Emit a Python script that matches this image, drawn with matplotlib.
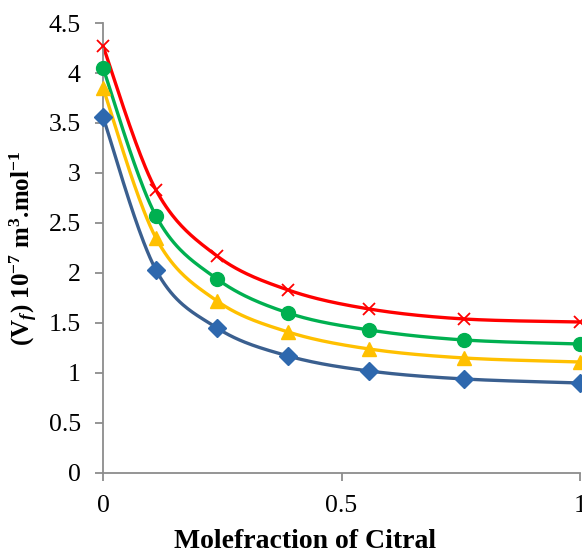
import numpy as np
import matplotlib
matplotlib.use("Agg")
import matplotlib.pyplot as plt

x_vals = [0.0, 0.111, 0.239, 0.388, 0.558, 0.757, 1.0]
series_blue = [3.56, 2.03, 1.45, 1.17, 1.02, 0.94, 0.90]
series_yellow = [3.85, 2.35, 1.72, 1.41, 1.24, 1.15, 1.11]
series_green = [4.05, 2.57, 1.94, 1.60, 1.43, 1.33, 1.29]
series_red = [4.27, 2.83, 2.17, 1.83, 1.64, 1.54, 1.51]
x_ticks = [0, 0.5, 1]
x_tick_labels = ['0', '0.5', '1']
y_ticks = [0, 0.5, 1, 1.5, 2, 2.5, 3, 3.5, 4, 4.5]
y_tick_labels = ['0', '0.5', '1', '1.5', '2', '2.5', '3', '3.5', '4', '4.5']

plt.rcParams['font.family'] = ['Liberation Serif', 'DejaVu Serif']
plt.rcParams['mathtext.fontset'] = 'custom'
plt.rcParams['mathtext.rm'] = 'Liberation Serif:bold'
plt.rcParams['mathtext.it'] = 'Liberation Serif:bold:italic'
plt.rcParams['mathtext.bf'] = 'Liberation Serif:bold'


def smooth(xs, ys, n=40):
    P = np.column_stack([np.asarray(xs, float), np.asarray(ys, float)])
    out = []
    m = len(P)
    for i in range(m - 1):
        p0 = P[i - 1] if i > 0 else P[i]
        p1 = P[i]
        p2 = P[i + 1]
        p3 = P[i + 2] if i + 2 < m else P[i + 1]
        c1 = p1 + (p2 - p0) / 6.0
        c2 = p2 - (p3 - p1) / 6.0
        t = np.linspace(0, 1, n)[:, None]
        seg = ((1 - t) ** 3) * p1 + 3 * ((1 - t) ** 2) * t * c1 + 3 * (1 - t) * t ** 2 * c2 + t ** 3 * p2
        out.append(seg if i == 0 else seg[1:])
    s = np.vstack(out)
    return s[:, 0], s[:, 1]


fig = plt.figure(figsize=(5.82, 5.53), dpi=100)
ax = fig.add_axes([0.177, 0.1447, 0.8196, 0.8137])

specs = [
    (series_blue, '#3A5F8F', '#2E68AE', 'D', 9),
    (series_yellow, '#FFC000', '#FFC000', '^', 10),
    (series_green, '#00B050', '#00B050', 'o', 10),
    (series_red, '#FF0000', '#FF0000', 'x', 9),
]
for ys, lc, mc, mk, ms in specs:
    sx, sy = smooth(x_vals, ys)
    ax.plot(sx, sy, color=lc, lw=2.4, solid_capstyle='round', clip_on=False, zorder=2)
    if mk == 'x':
        ax.plot(x_vals, ys, linestyle='none', marker=mk, ms=ms, mew=1.3,
                color=mc, clip_on=False, zorder=3)
    else:
        ax.plot(x_vals, ys, linestyle='none', marker=mk, ms=ms, mfc=mc,
                mec=mc, clip_on=False, zorder=3)

ax.set_xlim(0, 1)
ax.set_ylim(0, 4.5)
ax.set_xticks(x_ticks)
ax.set_xticklabels(x_tick_labels)
ax.set_yticks(y_ticks)
ax.set_yticklabels(y_tick_labels)

for s in ['top', 'right']:
    ax.spines[s].set_visible(False)
for s in ['left', 'bottom']:
    ax.spines[s].set_color('#8C8C8C')
    ax.spines[s].set_linewidth(1.3)
ax.tick_params(axis='both', colors='#8C8C8C', length=6, width=1.3,
               labelsize=18.5, labelcolor='black', direction='out')
ax.tick_params(axis='x', pad=10)
ax.tick_params(axis='y', pad=10)

ax.set_xlabel('Molefraction of Citral', fontsize=20, fontweight='bold')
ax.xaxis.set_label_coords(0.424, -0.1667)
ax.xaxis.label.set_va('baseline')
ax.set_ylabel(r'(V$_{\mathit{f}}$) 10$^{-7}$ m$^{3}$.mol$^{-1}$', fontsize=18,
              fontweight='bold', labelpad=6)

fig.savefig('out.png', dpi=100)
